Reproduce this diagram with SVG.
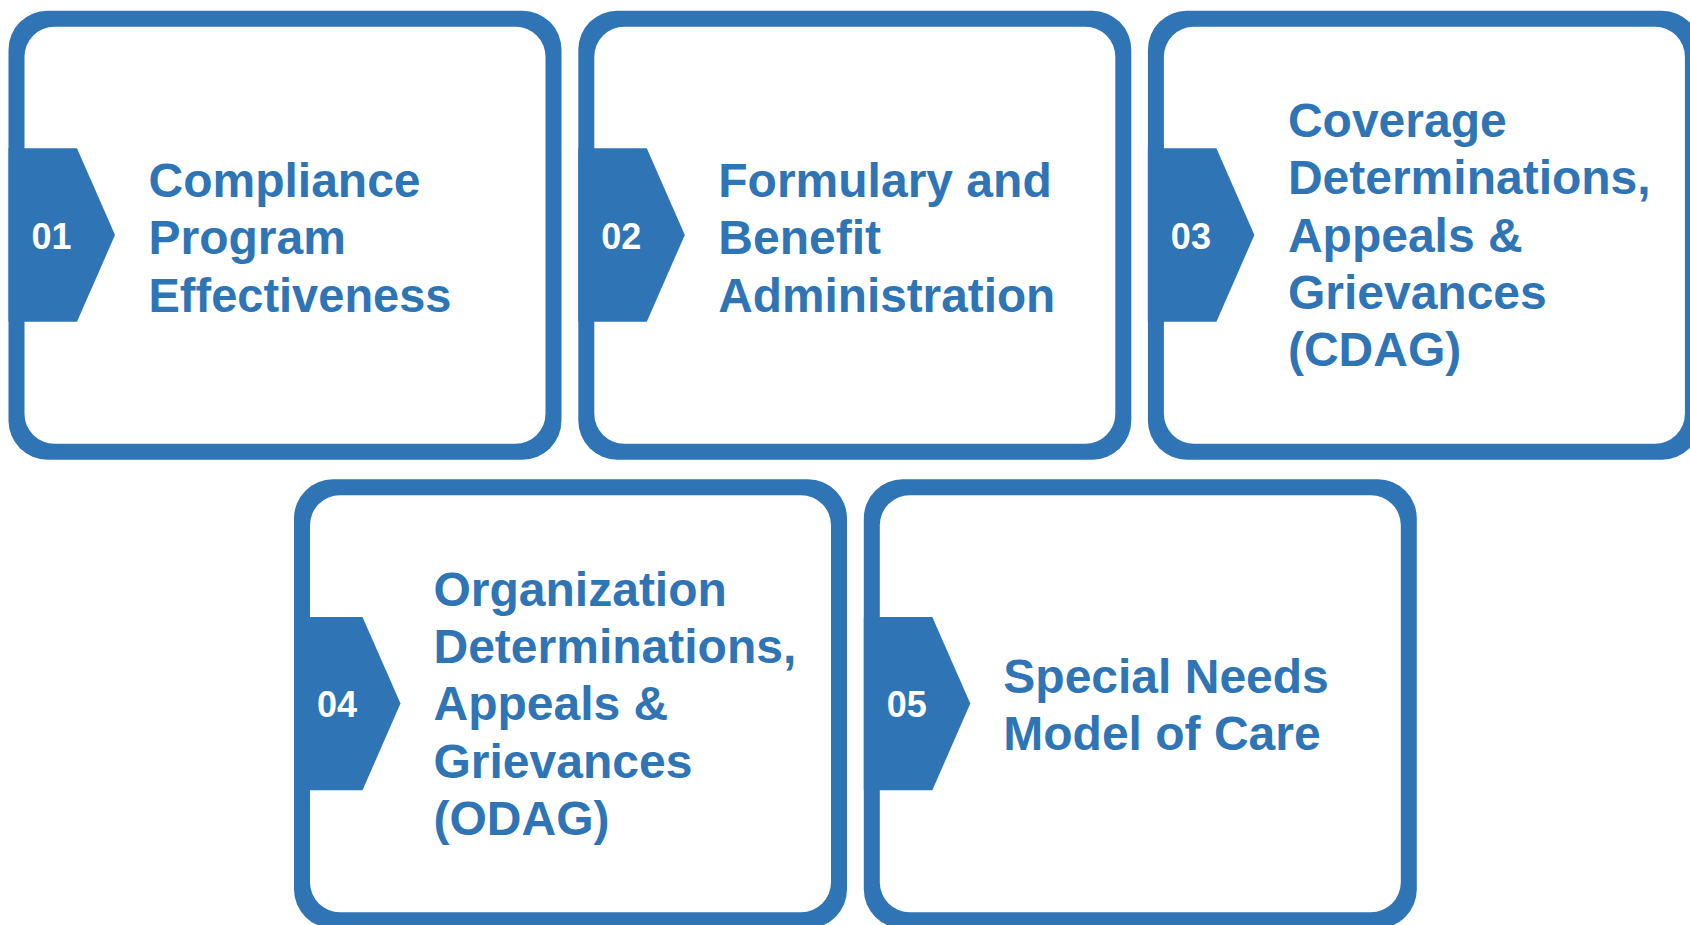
<svg xmlns="http://www.w3.org/2000/svg" width="1690" height="925" viewBox="0 0 1690 925">
  <style>
    .frame { fill: #2F75B5; }
    .panel { fill: #FFFFFF; }
    .tab { fill: #2F75B5; }
    .num { fill: #FFFFFF; font-family: "Liberation Sans", Arial, sans-serif; font-weight: bold; font-size: 36px; text-anchor: middle; }
    .label { fill: #2F75B5; font-family: "Liberation Sans", Arial, sans-serif; font-weight: bold; font-size: 48px; }
  </style>
  <defs>
    <!-- card body: blue frame, white panel, number tab -->
    <g id="card">
      <rect class="frame" x="0" y="0" width="553" height="449" rx="39" ry="39"/>
      <rect class="panel" x="16" y="16" width="521" height="417" rx="30" ry="30"/>
      <polygon class="tab" points="0,137.6 68.5,137.6 106.5,224.3 68.5,311 0,311"/>
    </g>
  </defs>
  <rect x="0" y="0" width="1690" height="925" fill="#FFFFFF"/>

  <g id="connectors"></g>

  <g id="node-01" transform="translate(8.5,10.7)">
    <use href="#card"/>
    <text class="num" x="43" y="238">01</text>
    <text class="label">
      <tspan x="140" y="186.5">Compliance</tspan>
      <tspan x="140" y="243.8">Program</tspan>
      <tspan x="140" y="301.1" textLength="303" lengthAdjust="spacingAndGlyphs">Effectiveness</tspan>
    </text>
  </g>

  <g id="node-02" transform="translate(578.3,10.7)">
    <use href="#card"/>
    <text class="num" x="43" y="238">02</text>
    <text class="label">
      <tspan x="140" y="186.5">Formulary and</tspan>
      <tspan x="140" y="243.8">Benefit</tspan>
      <tspan x="140" y="301.1" textLength="337" lengthAdjust="spacingAndGlyphs">Administration</tspan>
    </text>
  </g>

  <g id="node-03" transform="translate(1147.9,10.7)">
    <use href="#card"/>
    <text class="num" x="43" y="238">03</text>
    <text class="label">
      <tspan x="140" y="126.5">Coverage</tspan>
      <tspan x="140" y="183.8">Determinations,</tspan>
      <tspan x="140" y="241.1">Appeals &amp;</tspan>
      <tspan x="140" y="298.4">Grievances</tspan>
      <tspan x="140" y="355.7">(CDAG)</tspan>
    </text>
  </g>

  <g id="node-04" transform="translate(294,479.3)">
    <use href="#card"/>
    <text class="num" x="43" y="238">04</text>
    <text class="label">
      <tspan x="139.5" y="126.5">Organization</tspan>
      <tspan x="139.5" y="183.8">Determinations,</tspan>
      <tspan x="139.5" y="241.1">Appeals &amp;</tspan>
      <tspan x="139.5" y="298.4">Grievances</tspan>
      <tspan x="139.5" y="355.7">(ODAG)</tspan>
    </text>
  </g>

  <g id="node-05" transform="translate(863.8,479.3)">
    <use href="#card"/>
    <text class="num" x="43" y="238">05</text>
    <text class="label">
      <tspan x="139.5" y="213.4">Special Needs</tspan>
      <tspan x="139.5" y="270.7">Model of Care</tspan>
    </text>
  </g>
</svg>
